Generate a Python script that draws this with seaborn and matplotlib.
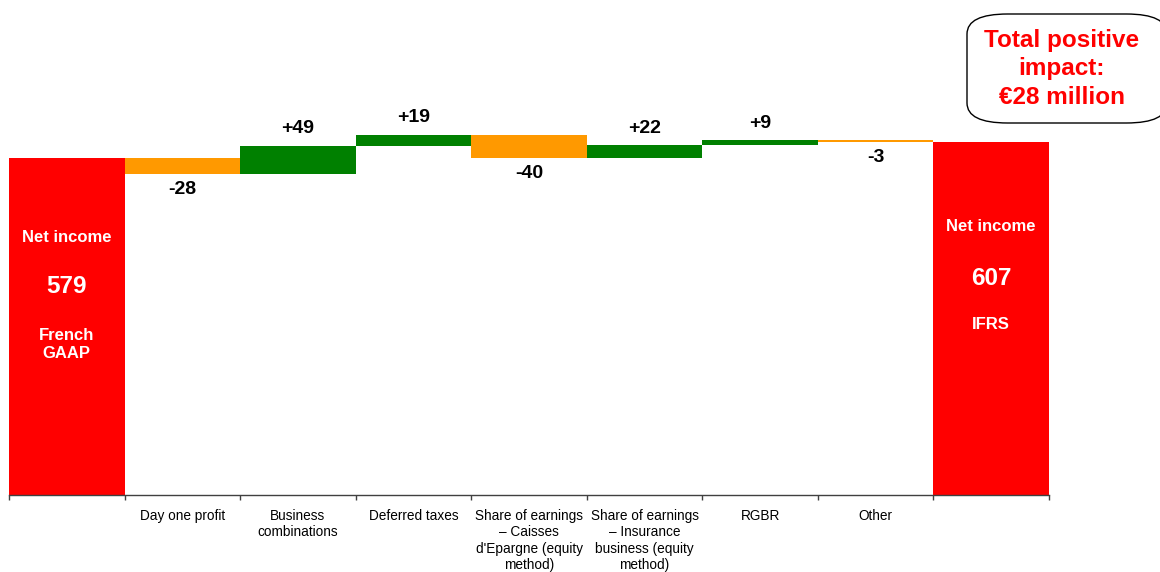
import numpy as np
import pandas as pd
import matplotlib
matplotlib.use('Agg')
import matplotlib.pyplot as plt
from matplotlib.patches import FancyBboxPatch
import seaborn as sns

keys = ['French GAAP', 'Day one profit', 'Business combinations', 'Deferred taxes',
        'Caisses', 'Insurance', 'RGBR', 'Other', 'IFRS']
tick_labels = ['', 'Day one profit', 'Business\ncombinations', 'Deferred taxes',
               "Share of earnings\n\u2013 Caisses\nd'Epargne (equity\nmethod)",
               'Share of earnings\n\u2013 Insurance\nbusiness (equity\nmethod)',
               'RGBR', 'Other', '']
start_total = 579
changes = [-28, 49, 19, -40, 22, 9, -3]
end_total = 607
value_labels = ['-28', '+49', '+19', '-40', '+22', '+9', '-3']

RED, ORANGE, GREEN = '#FF0000', '#FF9900', '#008000'

# waterfall geometry from the values
cum = np.concatenate([[start_total], start_total + np.cumsum(changes)])
lows = [0] + [min(cum[i], cum[i + 1]) for i in range(len(changes))] + [0]
highs = [start_total] + [max(cum[i], cum[i + 1]) for i in range(len(changes))] + [end_total]
colors = [RED] + [GREEN if c > 0 else ORANGE for c in changes] + [RED]

df = pd.DataFrame({'key': keys, 'high': highs, 'low': lows})

plt.rcParams['font.family'] = ['Liberation Sans', 'DejaVu Sans']
fig = plt.figure(figsize=(11.6, 5.72), dpi=100)
ax = fig.add_axes([9 / 1160, 77 / 572, 1040 / 1160, 495 / 572])

sns.barplot(data=df, x='key', y='high', hue='key', palette=colors, width=1.0,
            legend=False, ax=ax, saturation=1, linewidth=0)
patches = sorted(ax.patches, key=lambda p: p.get_x())
for p, lo, hi in zip(patches, lows, highs):
    p.set_y(lo)
    p.set_height(hi - lo)

ax.set_xlim(-0.5, len(keys) - 0.5)
ax.set_ylim(0, 850)
ax.set_xlabel('')
ax.set_ylabel('')
for s in ['top', 'right', 'left']:
    ax.spines[s].set_visible(False)
ax.spines['bottom'].set_color('#404040')
ax.spines['bottom'].set_linewidth(1.0)
ax.set_yticks([])
ax.set_xticks(range(len(keys)))
ax.set_xticklabels(tick_labels, fontsize=9.8, va='top', ha='center', linespacing=1.22)
ax.tick_params(axis='x', which='major', length=0, pad=10)
ax.set_xticks(np.arange(-0.5, len(keys), 1.0), minor=True)
ax.tick_params(axis='x', which='minor', length=3.5, color='#404040', width=1)

# value labels
for i, (c, lab) in enumerate(zip(changes, value_labels)):
    x = i + 1
    if c > 0:
        ax.text(x, highs[x] + 14, lab, ha='center', va='bottom', fontsize=14, fontweight='bold')
    else:
        ax.text(x, lows[x] - 12, lab, ha='center', va='top', fontsize=14, fontweight='bold')

# labels inside total bars
ax.text(0, 442, 'Net income', ha='center', va='center', color='white', fontsize=12, fontweight='bold')
ax.text(0, 358, '579', ha='center', va='center', color='white', fontsize=17.5, fontweight='bold')
ax.text(0, 258, 'French\nGAAP', ha='center', va='center', color='white', fontsize=12,
        fontweight='bold', linespacing=1.25)
ax.text(8, 461, 'Net income', ha='center', va='center', color='white', fontsize=12, fontweight='bold')
ax.text(8, 372, '607', ha='center', va='center', color='white', fontsize=17.5, fontweight='bold')
ax.text(8, 293, 'IFRS', ha='center', va='center', color='white', fontsize=12, fontweight='bold')

# rounded callout box
box = FancyBboxPatch((967 / 1160, 1 - 123 / 572), 200 / 1160, 109 / 572,
                     boxstyle='round,pad=0,rounding_size=0.035', transform=fig.transFigure,
                     facecolor='white', edgecolor='black', linewidth=1.0)
fig.patches.append(box)
fig.text(1062 / 1160, 1 - 69 / 572, 'Total positive\nimpact:\n\u20ac28 million', ha='center',
         va='center', color=RED, fontsize=17.5, fontweight='bold', linespacing=1.32)

fig.savefig('out.png', dpi=100)
